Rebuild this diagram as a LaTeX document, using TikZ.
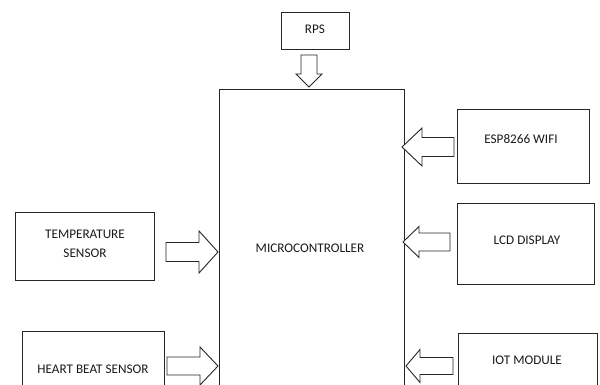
\documentclass[tikz,border=0pt]{standalone}
\usepackage{fontspec}
\setmainfont{Carlito}
\begin{document}
\begin{tikzpicture}[x=1pt,y=-1pt,
  box/.style={draw=black!85,line width=0.9pt,rectangle,inner sep=0pt},
  lbl/.style={text=black!90,font=\fontsize{13.2}{19}\selectfont,align=center,inner sep=0pt},
  arrowline/.style={draw=black!85,line width=0.9pt,line join=miter,fill=white}]
\newcommand\blockarrow[7]{\draw[arrowline,shift={(#1,#2)},rotate=#3] (0,0) -- (-#5,#6/2) -- (-#5,#7/2) -- (-#4,#7/2) -- (-#4,-#7/2) -- (-#5,-#7/2) -- (-#5,-#6/2) -- cycle;}
\useasboundingbox (0,0) rectangle (600,385);
\clip (0,0) rectangle (600,385);
% boxes
\node[box,minimum width=68pt,minimum height=37pt] (rps) at (315,30.5) {};
\node[lbl] (rpst) at (315,29) {RPS};
\node[box,minimum width=185pt,minimum height=320pt] (mc) at (311.5,249) {};
\node[lbl] (mct) at (310,248) {MICROCONTROLLER};
\node[box,minimum width=132pt,minimum height=74pt] (esp) at (523,146) {};
\node[lbl] (espt) at (521,139) {ESP8266 WIFI};
\node[box,minimum width=139pt,minimum height=68pt] (temp) at (84.5,246) {};
\node[lbl] (tempt) at (85,244) {TEMPERATURE\\SENSOR};
\node[box,minimum width=137pt,minimum height=81pt] (lcd) at (525.5,243.5) {};
\node[lbl] (lcdt) at (527,240) {LCD DISPLAY};
\node[box,minimum width=142pt,minimum height=80pt] (hb) at (93,371) {};
\node[lbl] (hbt) at (93,369) {HEART BEAT SENSOR};
\node[box,minimum width=139pt,minimum height=80pt] (iot) at (527.5,373) {};
\node[lbl] (iott) at (527,360) {IOT MODULE};
% block arrows: tip x, tip y, rotation, length, head length, head width, shaft width
\blockarrow{309}{87}{-90}{32}{13}{26}{16}
\blockarrow{402}{147}{180}{52}{20}{38}{19}
\blockarrow{218}{252}{0}{52}{19}{42}{19}
\blockarrow{403}{242}{180}{47}{16}{31}{18}
\blockarrow{218}{366}{0}{51}{18}{38}{18}
\blockarrow{406}{366}{180}{47}{14}{33}{17}
\end{tikzpicture}
\end{document}
